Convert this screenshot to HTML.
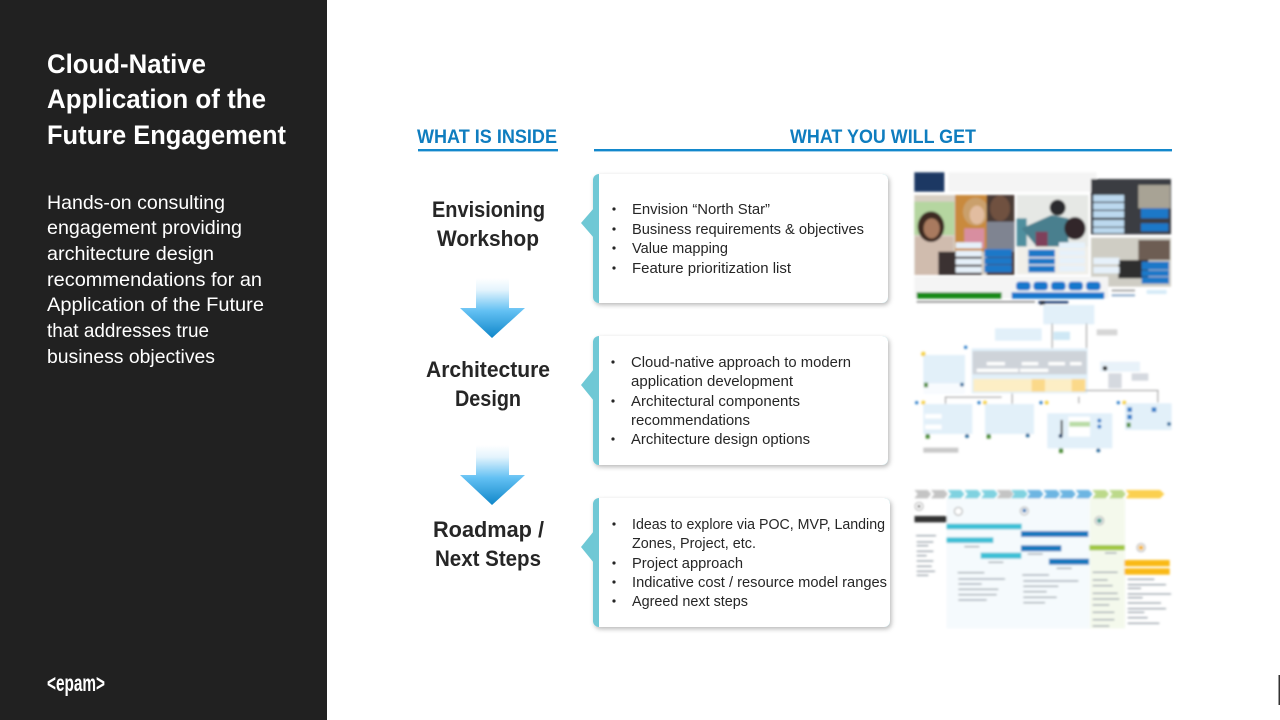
<!DOCTYPE html>
<html lang="en">
<head>
<meta charset="utf-8">
<title>Cloud-Native Application of the Future Engagement</title>
<style>
html,body{margin:0;padding:0;background:#fff;width:1280px;height:720px;overflow:hidden}
svg{display:block;font-family:"Liberation Sans",Arial,sans-serif}
.t{font-size:27px;font-weight:700;fill:#fff}
.b{font-size:19.5px;fill:#fff}
.h{font-size:19.5px;font-weight:700;fill:#0f7dbf}
.l{font-size:22.5px;font-weight:700;fill:#262626}
.c{font-size:15px;fill:#262626}
</style>
</head>
<body>
<svg width="1280" height="720" viewBox="0 0 1280 720" xmlns="http://www.w3.org/2000/svg">
<defs>
<linearGradient id="ag" x1="0" y1="0" x2="0" y2="1">
<stop offset="0" stop-color="#fff"/><stop offset=".2" stop-color="#e4f4fd"/><stop offset=".55" stop-color="#62c0f3"/><stop offset="1" stop-color="#0f86c9"/>
</linearGradient>
<filter id="sh" x="-5%" y="-8%" width="112%" height="120%"><feDropShadow dx="1.5" dy="2" stdDeviation="2.5" flood-color="#000" flood-opacity=".28"/></filter>
<filter id="bl" x="-2%" y="-2%" width="104%" height="104%"><feGaussianBlur stdDeviation="3"/></filter>
<polygon id="cv" points="0,30 40,30 50,42 40,55 0,55 10,42"/>
</defs>

<rect width="327" height="720" fill="#212121"/>
<text class="t" x="47" y="73" textLength="159" lengthAdjust="spacingAndGlyphs">Cloud-Native</text>
<text class="t" x="47" y="108" textLength="219" lengthAdjust="spacingAndGlyphs">Application of the</text>
<text class="t" x="47" y="144" textLength="239" lengthAdjust="spacingAndGlyphs">Future Engagement</text>
<text class="b" x="47" y="209" textLength="178" lengthAdjust="spacingAndGlyphs">Hands-on consulting</text>
<text class="b" x="47" y="234" textLength="195" lengthAdjust="spacingAndGlyphs">engagement providing</text>
<text class="b" x="47" y="260" textLength="167" lengthAdjust="spacingAndGlyphs">architecture design</text>
<text class="b" x="47" y="286" textLength="215" lengthAdjust="spacingAndGlyphs">recommendations for an</text>
<text class="b" x="47" y="311" textLength="217" lengthAdjust="spacingAndGlyphs">Application of the Future</text>
<text class="b" x="47" y="337" textLength="162" lengthAdjust="spacingAndGlyphs">that addresses true</text>
<text class="b" x="47" y="363" textLength="168" lengthAdjust="spacingAndGlyphs">business objectives</text>
<text x="47" y="691" font-size="23" font-weight="700" fill="#fff" textLength="58" lengthAdjust="spacingAndGlyphs">&lt;epam&gt;</text>

<text class="h" x="417" y="143" textLength="140" lengthAdjust="spacingAndGlyphs">WHAT IS INSIDE</text>
<rect x="418" y="149" width="140" height="2.4" fill="#1388cc"/>
<text class="h" x="790" y="143" textLength="186" lengthAdjust="spacingAndGlyphs">WHAT YOU WILL GET</text>
<rect x="594" y="149" width="578" height="2.4" fill="#1388cc"/>

<text class="l" x="432" y="217" textLength="113" lengthAdjust="spacingAndGlyphs">Envisioning</text>
<text class="l" x="437" y="246" textLength="102" lengthAdjust="spacingAndGlyphs">Workshop</text>
<text class="l" x="426" y="377" textLength="124" lengthAdjust="spacingAndGlyphs">Architecture</text>
<text class="l" x="455" y="406" textLength="66" lengthAdjust="spacingAndGlyphs">Design</text>
<text class="l" x="433" y="537" textLength="111" lengthAdjust="spacingAndGlyphs">Roadmap /</text>
<text class="l" x="435" y="566" textLength="106" lengthAdjust="spacingAndGlyphs">Next Steps</text>

<polygon points="476,278 509,278 509,308 525,308 492,338 460,308 476,308" fill="url(#ag)"/>
<polygon points="476,445 509,445 509,475 525,475 492,505 460,475 476,475" fill="url(#ag)"/>

<!-- cards -->
<rect x="593" y="174" width="295" height="129" rx="6" fill="#6fc8d5" filter="url(#sh)"/>
<path d="M599 174H882a6 6 0 0 1 6 6V297a6 6 0 0 1-6 6H599Z" fill="#fff"/>
<polygon points="594,208 581,223 594,238" fill="#6fc8d5"/>
<rect x="593" y="336" width="295" height="129" rx="6" fill="#6fc8d5" filter="url(#sh)"/>
<path d="M599 336H882a6 6 0 0 1 6 6V459a6 6 0 0 1-6 6H599Z" fill="#fff"/>
<polygon points="594,369 581,385 594,401" fill="#6fc8d5"/>
<rect x="593" y="498" width="297" height="129" rx="6" fill="#6fc8d5" filter="url(#sh)"/>
<path d="M599 498H884a6 6 0 0 1 6 6V621a6 6 0 0 1-6 6H599Z" fill="#fff"/>
<polygon points="594,531 581,547 594,563" fill="#6fc8d5"/>

<g fill="#262626">
<circle cx="614" cy="209" r="1.6"/><circle cx="614" cy="229" r="1.6"/><circle cx="614" cy="248" r="1.6"/><circle cx="614" cy="268" r="1.6"/>
<circle cx="613" cy="362" r="1.6"/><circle cx="613" cy="401" r="1.6"/><circle cx="613" cy="439" r="1.6"/>
<circle cx="614" cy="524" r="1.6"/><circle cx="614" cy="563" r="1.6"/><circle cx="614" cy="582" r="1.6"/><circle cx="614" cy="601" r="1.6"/>
</g>
<text class="c" x="632" y="214" textLength="138" lengthAdjust="spacingAndGlyphs">Envision “North Star”</text>
<text class="c" x="632" y="234" textLength="232" lengthAdjust="spacingAndGlyphs">Business requirements &amp; objectives</text>
<text class="c" x="632" y="253" textLength="96" lengthAdjust="spacingAndGlyphs">Value mapping</text>
<text class="c" x="632" y="273" textLength="159" lengthAdjust="spacingAndGlyphs">Feature prioritization list</text>

<text class="c" x="631" y="367" textLength="220" lengthAdjust="spacingAndGlyphs">Cloud-native approach to modern</text>
<text class="c" x="631" y="386" textLength="162" lengthAdjust="spacingAndGlyphs">application development</text>
<text class="c" x="631" y="406" textLength="169" lengthAdjust="spacingAndGlyphs">Architectural components</text>
<text class="c" x="631" y="425" textLength="119" lengthAdjust="spacingAndGlyphs">recommendations</text>
<text class="c" x="631" y="444" textLength="179" lengthAdjust="spacingAndGlyphs">Architecture design options</text>

<text class="c" x="632" y="529" textLength="253" lengthAdjust="spacingAndGlyphs">Ideas to explore via POC, MVP, Landing</text>
<text class="c" x="632" y="548" textLength="124" lengthAdjust="spacingAndGlyphs">Zones, Project, etc.</text>
<text class="c" x="632" y="568" textLength="111" lengthAdjust="spacingAndGlyphs">Project approach</text>
<text class="c" x="632" y="587" textLength="255" lengthAdjust="spacingAndGlyphs">Indicative cost / resource model ranges</text>
<text class="c" x="632" y="606" textLength="116" lengthAdjust="spacingAndGlyphs">Agreed next steps</text>

<!-- thumbnail 1 -->
<g transform="translate(905,165) scale(.33333)" filter="url(#bl)">
<rect x="28" y="22" width="90" height="58" fill="#1f3864"/>
<rect x="130" y="22" width="445" height="58" fill="#f4f4f4"/>
<rect x="28" y="90" width="300" height="240" fill="#d8d0c4"/>
<rect x="28" y="110" width="120" height="100" fill="#b5d6a0"/>
<rect x="30" y="215" width="115" height="115" fill="#d0bcae"/>
<ellipse cx="78" cy="185" rx="40" ry="46" fill="#3e2a22"/>
<ellipse cx="80" cy="190" rx="24" ry="30" fill="#a97a5e"/>
<rect x="150" y="90" width="100" height="170" fill="#c98a3c"/>
<ellipse cx="212" cy="140" rx="38" ry="42" fill="#caa06c"/>
<ellipse cx="216" cy="150" rx="22" ry="28" fill="#e2bda0"/>
<rect x="178" y="190" width="60" height="60" fill="#d88ea0"/>
<rect x="245" y="90" width="83" height="240" fill="#4a3a36"/>
<ellipse cx="285" cy="130" rx="30" ry="38" fill="#70513f"/>
<rect x="245" y="170" width="83" height="90" fill="#7f8491"/>
<rect x="100" y="260" width="130" height="70" fill="#3a3230"/>
<g fill="#e6f1fa"><rect x="152" y="232" width="78" height="18"/><rect x="152" y="257" width="78" height="18"/><rect x="152" y="281" width="78" height="18"/><rect x="152" y="305" width="78" height="18"/></g>
<g fill="#1a78c8"><rect x="238" y="252" width="82" height="24"/><rect x="238" y="278" width="82" height="20"/><rect x="238" y="300" width="82" height="22"/></g>
<rect x="335" y="90" width="215" height="238" fill="#e6e8e5"/>
<rect x="335" y="160" width="30" height="85" fill="#4f8f9e"/>
<ellipse cx="458" cy="128" rx="24" ry="24" fill="#2c2a2e"/>
<polygon points="350,190 440,150 490,160 490,245 395,245" fill="#4a7f8e"/>
<ellipse cx="510" cy="190" rx="32" ry="34" fill="#33282a"/>
<rect x="392" y="200" width="36" height="45" fill="#7e3f5a"/>
<rect x="335" y="245" width="215" height="83" fill="#f1efe9"/>
<g fill="#e6f1fa"><rect x="462" y="232" width="78" height="18"/><rect x="462" y="255" width="78" height="18"/><rect x="462" y="278" width="78" height="18"/><rect x="462" y="302" width="78" height="18"/></g>
<g fill="#1a78c8"><rect x="370" y="254" width="80" height="22"/><rect x="370" y="280" width="80" height="18"/><rect x="370" y="302" width="80" height="20"/></g>
<rect x="558" y="42" width="240" height="166" fill="#3b3d42"/>
<rect x="700" y="60" width="95" height="70" fill="#a8a395"/>
<g fill="#bcd9ef"><rect x="565" y="90" width="92" height="20"/><rect x="565" y="114" width="92" height="20"/><rect x="565" y="138" width="92" height="20"/><rect x="565" y="165" width="92" height="20"/><rect x="565" y="188" width="92" height="16"/></g>
<g fill="#1a78c8"><rect x="708" y="130" width="82" height="30"/><rect x="708" y="175" width="82" height="24"/></g>
<rect x="558" y="218" width="240" height="147" fill="#cfcdc4"/>
<rect x="700" y="225" width="95" height="60" fill="#6d5d52"/>
<rect x="640" y="285" width="90" height="55" fill="#2f2f2f"/>
<g fill="#e6f1fa"><rect x="565" y="278" width="78" height="20"/><rect x="565" y="305" width="78" height="20"/></g>
<g fill="#1a78c8"><rect x="710" y="290" width="82" height="24"/><rect x="710" y="316" width="82" height="18"/><rect x="710" y="336" width="82" height="20"/></g>
<rect x="28" y="335" width="582" height="65" fill="#f4f4f4"/>
<rect x="35" y="382" width="255" height="19" fill="#158a18"/>
<rect x="320" y="382" width="278" height="19" fill="#1477cc"/>
<g fill="#1477cc"><rect x="333" y="350" width="44" height="26" rx="10"/><rect x="385" y="350" width="44" height="26" rx="10"/><rect x="438" y="350" width="44" height="26" rx="10"/><rect x="490" y="350" width="44" height="26" rx="10"/><rect x="543" y="350" width="44" height="26" rx="10"/></g>
<rect x="35" y="408" width="355" height="5" fill="#8a8a8a"/>
<rect x="620" y="374" width="70" height="5" fill="#9a9a9a"/><rect x="620" y="388" width="70" height="6" fill="#8aa9c8"/>
<rect x="725" y="375" width="60" height="12" fill="#d6ebf8"/>
</g>

<!-- thumbnail 2 -->
<g transform="translate(905,300) scale(.33333)" filter="url(#bl)">
<rect x="415" y="15" width="153" height="58" fill="#e2f0f9"/>
<rect x="400" y="3" width="90" height="8" fill="#2a4a7a"/>
<rect x="270" y="85" width="140" height="37" fill="#e2f0f9"/>
<rect x="445" y="95" width="50" height="25" fill="#cfe8f5"/>
<rect x="575" y="88" width="62" height="18" fill="#d6d6d6"/>
<rect x="200" y="145" width="348" height="135" fill="#e2f0f9"/>
<rect x="203" y="153" width="342" height="70" fill="#ced3d9"/>
<rect x="205" y="237" width="338" height="38" fill="#fdeec5"/>
<rect x="380" y="237" width="40" height="38" fill="#fbd98a"/><rect x="500" y="237" width="40" height="38" fill="#fbd98a"/>
<g fill="#fff"><rect x="245" y="186" width="55" height="10"/><rect x="350" y="186" width="50" height="10"/><rect x="430" y="186" width="50" height="10"/><rect x="495" y="186" width="35" height="10"/><rect x="215" y="206" width="125" height="10"/><rect x="345" y="206" width="85" height="10"/></g>
<rect x="55" y="165" width="125" height="100" fill="#e2f0f9"/>
<rect x="55" y="250" width="125" height="32" fill="#f8fbfe"/>
<rect x="585" y="185" width="120" height="30" fill="#e8f2f9"/>
<circle cx="600" cy="205" r="7" fill="#111"/>
<rect x="610" y="220" width="40" height="45" fill="#d5d9df"/><rect x="680" y="220" width="50" height="22" fill="#d5d9df"/>
<rect x="55" y="312" width="147" height="90" fill="#e2f0f9"/>
<rect x="240" y="312" width="147" height="90" fill="#e2f0f9"/>
<rect x="427" y="340" width="195" height="105" fill="#e2f0f9"/>
<rect x="660" y="310" width="140" height="80" fill="#e2f0f9"/>
<g fill="#2f7fc9"><rect x="667" y="322" width="14" height="14"/><rect x="667" y="344" width="14" height="14"/><rect x="740" y="322" width="14" height="14"/><circle cx="182" cy="142" r="5"/><circle cx="35" cy="308" r="5"/><circle cx="222" cy="308" r="5"/><circle cx="408" cy="308" r="5"/><circle cx="640" cy="308" r="5"/><circle cx="583" cy="362" r="6"/><circle cx="583" cy="380" r="6"/></g>
<g fill="#fff"><rect x="490" y="350" width="65" height="60"/><rect x="60" y="342" width="50" height="14"/><rect x="60" y="374" width="50" height="14"/></g>
<rect x="493" y="365" width="62" height="15" fill="#b9dca6"/>
<g fill="#f5d24b"><circle cx="55" cy="162" r="7"/><circle cx="55" cy="308" r="6"/><circle cx="240" cy="308" r="6"/><circle cx="425" cy="308" r="6"/><circle cx="658" cy="308" r="6"/></g>
<g fill="#4f8f3a"><rect x="57" y="248" width="12" height="14"/><rect x="62" y="402" width="12" height="14"/><rect x="245" y="402" width="12" height="14"/><rect x="462" y="445" width="12" height="14"/><rect x="665" y="368" width="12" height="14"/></g>
<g fill="#2f6f9f"><circle cx="171" cy="254" r="6"/><circle cx="186" cy="408" r="6"/><circle cx="368" cy="406" r="6"/><circle cx="580" cy="451" r="6"/><circle cx="792" cy="372" r="6"/></g>
<rect x="55" y="443" width="105" height="15" fill="#c9c9c9"/>
<rect x="467" y="360" width="6" height="45" fill="#444"/>
<circle cx="467" cy="408" r="6" fill="#103a66"/>
<g fill="#9a9a9a"><rect x="120" y="290" width="170" height="3"/><rect x="120" y="290" width="3" height="22"/><rect x="320" y="280" width="3" height="32"/><rect x="520" y="290" width="3" height="20"/><rect x="540" y="270" width="220" height="3"/><rect x="757" y="270" width="3" height="38"/><rect x="440" y="70" width="3" height="75"/><rect x="543" y="70" width="3" height="75"/></g>
<rect x="405" y="3" width="15" height="12" fill="#111" opacity=".6"/>
</g>

<!-- thumbnail 3 -->
<g transform="translate(905,480) scale(.33333)" filter="url(#bl)">
<rect x="125" y="55" width="430" height="390" fill="#f5fafd"/>
<rect x="555" y="55" width="105" height="390" fill="#f4f9ec"/>
<g fill="#c4c4c4"><use href="#cv" x="28"/><use href="#cv" x="78"/><use href="#cv" x="275"/></g>
<g fill="#7fd2e0"><use href="#cv" x="128"/><use href="#cv" x="178"/><use href="#cv" x="228"/><use href="#cv" x="318"/></g>
<g fill="#6db5e2"><use href="#cv" x="365"/><use href="#cv" x="415"/><use href="#cv" x="462"/><use href="#cv" x="512"/></g>
<g fill="#bcd98a"><use href="#cv" x="562"/><use href="#cv" x="612"/></g>
<polygon points="662,30 765,30 778,42 765,55 662,55 672,42" fill="#fbd04f"/>
<rect x="28" y="108" width="97" height="19" fill="#333"/>
<rect x="125" y="131" width="225" height="17" fill="#3cc0d6"/>
<rect x="348" y="153" width="202" height="18" fill="#1477bd"/>
<rect x="125" y="172" width="140" height="17" fill="#3cc0d6"/>
<rect x="227" y="218" width="122" height="18" fill="#3cc0d6"/>
<rect x="348" y="196" width="121" height="18" fill="#1477bd"/>
<rect x="432" y="236" width="120" height="18" fill="#1477bd"/>
<rect x="553" y="195" width="106" height="16" fill="#a1c740"/>
<rect x="658" y="240" width="136" height="19" fill="#f9b912"/>
<rect x="658" y="265" width="136" height="19" fill="#f9b912"/>
<g fill="#fff" stroke="#aaa" stroke-width="3"><circle cx="42" cy="79" r="12"/><circle cx="160" cy="94" r="12"/><circle cx="358" cy="93" r="12"/><circle cx="583" cy="122" r="13"/><circle cx="708" cy="203" r="12"/></g>
<circle cx="708" cy="203" r="7" fill="#f2b11c"/><circle cx="583" cy="122" r="8" fill="#5aa59b"/><circle cx="358" cy="92" r="6" fill="#2d78b8"/><circle cx="42" cy="79" r="4" fill="#333"/>
<g fill="#9aa3ab">
<rect x="33" y="165" width="60" height="4"/><rect x="35" y="184" width="50" height="4"/><rect x="35" y="195" width="35" height="4"/><rect x="35" y="212" width="50" height="4"/><rect x="35" y="225" width="30" height="4"/><rect x="35" y="241" width="50" height="4"/><rect x="35" y="257" width="45" height="4"/><rect x="35" y="272" width="55" height="4"/><rect x="35" y="284" width="35" height="4"/>
<rect x="158" y="276" width="80" height="4"/><rect x="160" y="295" width="140" height="4"/><rect x="160" y="310" width="70" height="4"/><rect x="160" y="326" width="120" height="4"/><rect x="160" y="342" width="115" height="4"/><rect x="160" y="358" width="85" height="4"/>
<rect x="352" y="283" width="80" height="4"/><rect x="355" y="301" width="165" height="4"/><rect x="355" y="317" width="105" height="4"/><rect x="355" y="333" width="70" height="4"/><rect x="355" y="350" width="100" height="4"/><rect x="355" y="366" width="65" height="4"/>
<rect x="563" y="275" width="75" height="4"/><rect x="563" y="298" width="45" height="4"/><rect x="563" y="315" width="60" height="4"/><rect x="563" y="338" width="75" height="4"/><rect x="563" y="355" width="80" height="4"/><rect x="563" y="373" width="50" height="4"/><rect x="563" y="395" width="65" height="4"/><rect x="563" y="417" width="65" height="4"/><rect x="563" y="436" width="50" height="4"/>
<rect x="668" y="296" width="80" height="4"/><rect x="668" y="312" width="115" height="4"/><rect x="668" y="323" width="40" height="4"/><rect x="668" y="340" width="130" height="4"/><rect x="668" y="351" width="45" height="4"/><rect x="668" y="367" width="100" height="4"/><rect x="668" y="384" width="115" height="4"/><rect x="668" y="395" width="50" height="4"/><rect x="668" y="411" width="60" height="4"/><rect x="668" y="428" width="95" height="4"/>
<rect x="178" y="198" width="45" height="4"/><rect x="250" y="245" width="45" height="4"/><rect x="368" y="220" width="45" height="4"/><rect x="455" y="263" width="45" height="4"/><rect x="600" y="217" width="35" height="4"/>
</g>
</g>

<rect x="1278.5" y="675" width="1.5" height="30" fill="#333"/>
</svg>
</body>
</html>
